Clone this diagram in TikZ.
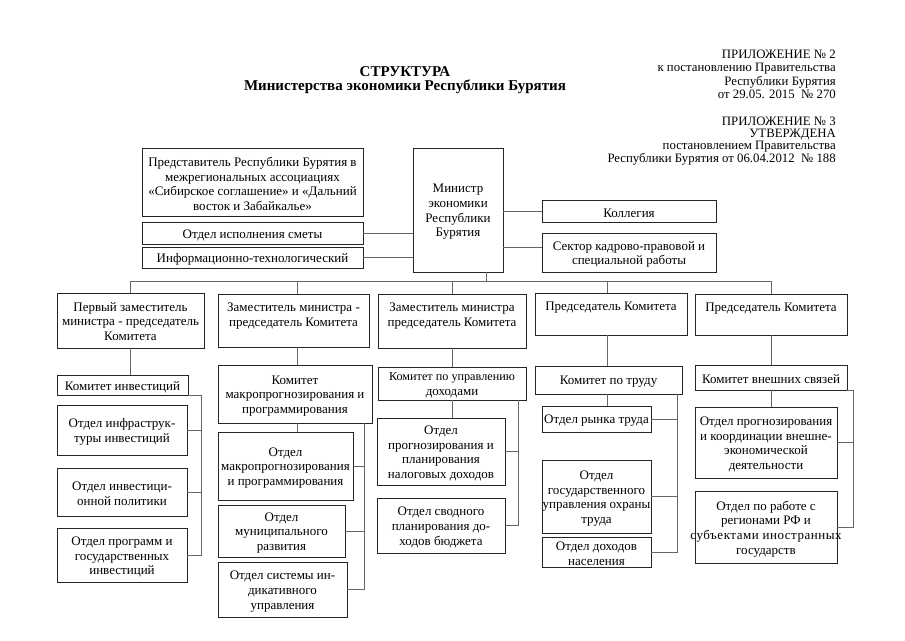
\documentclass[tikz,border=0pt]{standalone}
\usepackage{fontspec}
\setmainfont{Liberation Serif}
\usetikzlibrary{fit,calc}
\newcommand\Bx[6]{\node[frm, fit={(#2,#3) (#4,#5)}] (#1) {};
  \node[txt] (#1-t) at ([yshift=-2pt]#1.center) {#6};}
\newcommand\Bt[6]{\node[frm, fit={(#2,#3) (#4,#5)}] (#1) {};
  \node[txt, anchor=north] (#1-t) at ([yshift=-9.5pt]#1.north) {#6};}
\begin{document}
\begin{tikzpicture}[x=1pt,y=-1pt,
  frm/.style={draw=black!85, line width=0.8pt, inner sep=0pt},
  txt/.style={align=center, inner sep=0pt, font=\fontsize{13}{14.6}\selectfont},
  con/.style={draw=black!60, line width=1pt}]
\fill[white] (0,0) rectangle (905,640);
\useasboundingbox (0,0) rectangle (905,640);

\node[align=center, inner sep=0pt, anchor=north, font=\bfseries\fontsize{15}{14}\selectfont] (title) at (405,66.5)
  {СТРУКТУРА\\Министерства экономики Республики Бурятия};
\node[align=right, inner sep=0pt, anchor=north east, font=\fontsize{12.8}{13.2}\selectfont] (app2) at (836,50)
  {ПРИЛОЖЕНИЕ № 2\\к постановлению Правительства\\Республики Бурятия\\от 29.05. 2015~~№ 270};
\node[align=right, inner sep=0pt, anchor=north east, font=\fontsize{12.8}{12.3}\selectfont] (app3) at (836,116.5)
  {ПРИЛОЖЕНИЕ № 3\\УТВЕРЖДЕНА\\постановлением Правительства\\Республики Бурятия от 06.04.2012~~№ 188};

% top block
\Bx{rep}{142}{148}{363}{216}{Представитель Республики Бурятия в\\межрегиональных ассоциациях\\«Сибирское соглашение» и «Дальний\\восток и Забайкалье»}
\Bx{smeta}{142}{222}{363}{244}{Отдел исполнения сметы}
\Bx{info}{142}{247}{363}{268}{Информационно-технологический}
\Bx{min}{413}{148}{503}{272}{Министр\\экономики\\Республики\\Бурятия}
\Bx{kol}{542}{200}{716}{222}{Коллегия}
\Bx{sek}{542}{233}{716}{272}{Сектор кадрово-правовой и\\специальной работы}

% column heads
\Bt{h1}{57}{293}{204}{348}{Первый заместитель\\министра - председатель\\Комитета}
\Bt{h2}{218}{294}{369}{347}{Заместитель министра -\\председатель Комитета}
\Bt{h3}{378}{294}{526}{348}{Заместитель министра\\председатель Комитета}
\Bt{h4}{535}{293}{687}{335}{Председатель Комитета}
\Bt{h5}{695}{294}{847}{335}{Председатель Комитета}

% committees
\Bx{c1}{57}{375}{188}{395}{Комитет инвестиций}
\Bx{c2}{218}{365}{372}{423}{Комитет\\макропрогнозирования и\\программирования}
\Bx{c3}{378}{367}{526}{400}{\fontsize{12.2}{14.6}\selectfont Комитет по управлению\\доходами}
\Bx{c4}{535}{366}{682}{394}{Комитет по труду}
\Bx{c5}{695}{365}{847}{390}{Комитет внешних связей}

% departments
\Bx{d1a}{57}{405}{187}{455}{Отдел инфраструк-\\туры инвестиций}
\Bx{d1b}{57}{468}{187}{516}{Отдел инвестици-\\онной политики}
\Bx{d1c}{57}{528}{187}{582}{Отдел программ и\\государственных\\инвестиций}
\Bx{d2a}{218}{432}{353}{500}{Отдел\\макропрогнозирования\\и программирования}
\Bx{d2b}{218}{505}{345}{557}{Отдел\\муниципального\\развития}
\Bx{d2c}{218}{562}{347}{617}{Отдел системы ин-\\дикативного\\управления}
\Bx{d3a}{377}{418}{505}{485}{Отдел\\прогнозирования и\\планирования\\налоговых доходов}
\Bx{d3b}{377}{498}{505}{553}{Отдел сводного\\планирования до-\\ходов бюджета}
\Bx{d4a}{542}{406}{651}{432}{Отдел рынка труда}
\Bx{d4b}{542}{460}{651}{533}{Отдел\\государственного\\управления охраны\\труда}
\Bx{d4c}{542}{537}{651}{567}{Отдел доходов\\населения}
\Bx{d5a}{695}{407}{837}{478}{Отдел прогнозирования\\и координации внешне-\\экономической\\деятельности}
\Bx{d5b}{695}{491}{837}{563}{Отдел по работе с\\регионами РФ и\\{\addfontfeature{LetterSpace=4}субъектами иностранных}\\государств}

% side connectors of the minister
\coordinate (sekc) at ($(sek.west)+(0,-5.5)$);
\draw[con] (smeta.east) -- (smeta.east -| min.west);
\draw[con] (info.east) -- (info.east -| min.west);
\draw[con] (kol.west -| min.east) -- (kol.west);
\draw[con] (sekc -| min.east) -- (sekc);

% bus
\coordinate (bus) at (486,281);
\coordinate (s1) at (130,281);
\coordinate (s2) at (297.5,281);
\coordinate (s3) at (452,281);
\coordinate (s4) at (607,281);
\coordinate (s5) at (771,281);
\draw[con] (s1) -- (s5);
\draw[con] (min.south -| bus) -- (bus);
\foreach \i in {1,...,5} {\draw[con] (s\i) -- (h\i.north -| s\i);
  \draw[con] (h\i.south -| s\i) -- (c\i.north -| s\i);}
\draw[con] (c2.south -| s2) -- (d2a.north -| s2);
\draw[con] (c3.south -| s3) -- (d3a.north -| s3);
\draw[con] (c4.south -| s4) -- (d4a.north -| s4);
\draw[con] (c5.south -| s5) -- (d5a.north -| s5);

% rails
\coordinate (r1) at (201,0);
\coordinate (r2) at (364,0);
\coordinate (r3) at (518,0);
\coordinate (r4) at (677,0);
\coordinate (r5) at (853,0);
\draw[con] (c1.south east) -| (r1 |- d1c.east) -- (d1c.east);
\draw[con] (d1a.east) -- (d1a.east -| r1);
\draw[con] (d1b.east) -- (d1b.east -| r1);
\draw[con] (c2.south -| r2) |- (d2c.east);
\draw[con] (d2a.east) -- (d2a.east -| r2);
\draw[con] (d2b.east) -- (d2b.east -| r2);
\draw[con] (c3.south -| r3) |- (d3b.east);
\draw[con] (d3a.east) -- (d3a.east -| r3);
\draw[con] (c4.south -| r4) |- (d4c.east);
\draw[con] (d4a.east) -- (d4a.east -| r4);
\draw[con] (d4b.east) -- (d4b.east -| r4);
\draw[con] (c5.south east) -| (r5 |- d5b.east) -- (d5b.east);
\draw[con] (d5a.east) -- (d5a.east -| r5);
\end{tikzpicture}
\end{document}
